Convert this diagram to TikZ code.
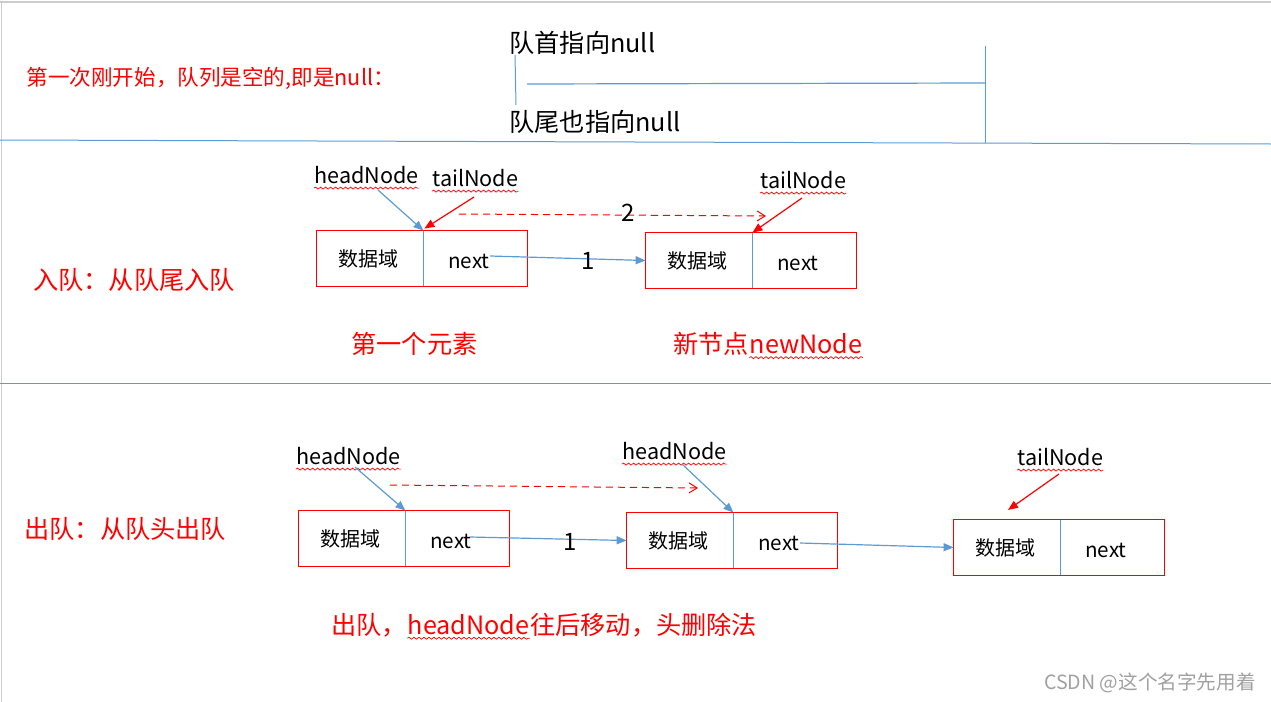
\documentclass[tikz,border=0pt]{standalone}
\usepackage{fontspec}
\setmainfont{Noto Sans CJK SC}
\usetikzlibrary{arrows.meta,decorations.pathmorphing,calc}
\definecolor{ublue}{HTML}{5B9BD5}
\definecolor{ured}{HTML}{FF0000}
\definecolor{wmgray}{HTML}{A0A0A0}
\newcommand{\datafield}{\hspace*{-1.5pt}数据域}
\newcommand{\nextfield}{\hspace*{-6pt}next}
\begin{document}
\begin{tikzpicture}[x=0.5pt,y=-0.5pt,
  txt/.style={inner sep=0pt, anchor=west},
  fbig/.style={font=\fontsize{12.6pt}{15pt}\selectfont},
  fmid/.style={font=\fontsize{10.8pt}{13pt}\selectfont},
  redtxt/.style={txt, text=ured},
  cellL/.style={inner sep=0pt, minimum width=53pt, minimum height=27.5pt, font=\fontsize{10pt}{12pt}\selectfont},
  cellR/.style={inner sep=0pt, minimum width=52pt, minimum height=27.5pt, font=\fontsize{10.3pt}{12pt}\selectfont},
  boxframe/.style={draw=ured, line width=0.6pt},
  divider/.style={draw=ublue, line width=0.5pt},
  blink/.style={draw=ublue, line width=0.6pt, -{Triangle[length=5pt,width=4pt]}},
  rlink/.style={draw=ured, line width=0.6pt, -{Triangle[length=5pt,width=4pt]}},
  rdash/.style={draw=ured, line width=0.5pt, dash pattern=on 3.5pt off 2.5pt, -{Straight Barb[length=4pt,width=5pt]}},
  squig/.style={draw=ured, line width=0.35pt, decorate, decoration={snake, amplitude=0.5pt, segment length=2.5pt}},
  numlbl/.style={inner sep=0pt, font=\fontsize{12pt}{14pt}\selectfont}
]
\useasboundingbox (0,0) rectangle (1271,702);
% page borders
\draw[black!20, line width=1pt] (0,2) -- (1271,2);
\draw[black!20, line width=0.5pt] (1,2) -- (1,702);
% section separators
\draw[ublue, line width=0.5pt] (0,140) -- (1271,144);
\draw[ublue, line width=0.5pt] (0,383) -- (1271,383);

% ---------- top section ----------
\node[redtxt, fmid] (t0) at (26,78) {第一次刚开始，队列是空的,即是null：};
\node[txt, fbig] (qh) at (509,43) {队首指向null};
\node[txt, fbig] (qt) at (509,122) {队尾也指向null};
\coordinate (v1a) at (515,55);
\coordinate (v1b) at (516,105);
\coordinate (h1a) at (527,84);
\coordinate (h1b) at (985,83);
\coordinate (v2a) at (985,46);
\coordinate (v2b) at (985,143);
\draw[ublue, line width=0.5pt] (v1a) -- (v1b);
\draw[ublue, line width=0.6pt] (h1a) -- (h1b);
\draw[ublue, line width=0.5pt] (v2a) -- (v2b);

% ---------- enqueue section ----------
\node[redtxt, fbig] (enq) at (33,280) {入队：从队尾入队};
\node[cellL] (d1) at (370,258.5) {\datafield};
\node[cellR] (n1) at (475,261) {\nextfield};
\draw[boxframe] (d1.north west) rectangle (n1.south east |- d1.south);
\draw[divider] (d1.north east) -- (d1.south east);

\node[cellL] (d2) at (699,260.5) {\datafield};
\node[cellR] (n2) at (804,263) {\nextfield};
\draw[boxframe] (d2.north west) rectangle (n2.south east |- d2.south);
\draw[divider] (d2.north east) -- (d2.south east);

\node[txt, fmid] (hn1) at (314,175) {headNode};
\node[txt, fmid] (tn1) at (432,178) {tailNode};
\node[txt, fmid] (tn2) at (760,180) {tailNode};
\draw[squig] ([yshift=-2pt]hn1.south west) -- ([yshift=-2pt]hn1.south east);
\draw[squig] ([yshift=-2pt]tn1.south west) -- ([yshift=-2pt]tn1.south east);
\draw[squig] ([yshift=-2pt]tn2.south west) -- ([yshift=-2pt]tn2.south east);

\draw[blink] (378,190) -- (d1.north east);
\draw[rlink] (474,197) -- ([xshift=0.5pt,yshift=1pt]d1.north east);
\draw[rlink] (802,198) -- (d2.north east);

\coordinate (e2a) at (459,214);
\coordinate (e2b) at (766,216);
\draw[rdash] (e2a) -- (e2b);
\node[numlbl] (lab2) at (628,213) {2};

\coordinate (n1out) at (490,256);
\draw[blink] (n1out) -- (d2.west);
\node[numlbl] (lab1) at (588,261) {1};

\node[redtxt, fbig] (first) at (351,344) {第一个元素};
\node[redtxt, fbig] (newa) at (673,344) {新节点};
\node[txt, fbig, text=ured, anchor=base west] (newb) at (newa.base east) {newNode};
\draw[squig] ([yshift=-2pt]newb.base west) -- ([yshift=-2pt]newb.base east);

% ---------- dequeue section ----------
\node[redtxt, fbig] (deq) at (24,529) {出队：从队头出队};
\node[cellL] (dA) at (352,538.5) {\datafield};
\node[cellR] (nA) at (457,541) {\nextfield};
\draw[boxframe] (dA.north west) rectangle (nA.south east |- dA.south);
\draw[divider] (dA.north east) -- (dA.south east);

\node[cellL] (dB) at (680,540.5) {\datafield};
\node[cellR] (nB) at (785,543) {\nextfield};
\draw[boxframe] (dB.north west) rectangle (nB.south east |- dB.south);
\draw[divider] (dB.north east) -- (dB.south east);

\node[cellL] (dC) at (1007,547.5) {\datafield};
\node[cellR] (nC) at (1112,550) {\nextfield};
\draw[boxframe] (dC.north west) rectangle (nC.south east |- dC.south);
\draw[divider] (dC.north east) -- (dC.south east);

\node[txt, fmid] (hnA) at (296,456) {headNode};
\node[txt, fmid] (hnB) at (622,451) {headNode};
\node[txt, fmid] (tnC) at (1017,457) {tailNode};
\draw[squig] ([yshift=-2pt]hnA.south west) -- ([yshift=-2pt]hnA.south east);
\draw[squig] ([yshift=-2pt]hnB.south west) -- ([yshift=-2pt]hnB.south east);
\draw[squig] ([yshift=-2pt]tnC.south west) -- ([yshift=-2pt]tnC.south east);

\draw[blink] (355,467) -- (dA.north east);
\draw[blink] (682,464) -- (dB.north east);
\coordinate (tCtip) at (1008,510);
\draw[rlink] (1059,474) -- (tCtip);

\coordinate (dqa) at (390,485);
\coordinate (dqb) at (698,488);
\draw[rdash] (dqa) -- (dqb);

\coordinate (nAout) at (470,537);
\draw[blink] (nAout) -- (dB.west);
\node[numlbl] (lab1b) at (570,542) {1};
\coordinate (nBout) at (800,543);
\draw[blink] (nBout) -- (dC.west);

\node[redtxt, fbig] (dqa1) at (331,625) {出队，};
\node[txt, fbig, text=ured, anchor=base west] (dqa2) at (dqa1.base east) {headNode};
\node[txt, fbig, text=ured, anchor=base west] (dqa3) at (dqa2.base east) {往后移动，头删除法};
\draw[squig] ([yshift=-2pt]dqa2.base west) -- ([yshift=-2pt]dqa2.base east);

% watermark
\node[inner sep=0pt, anchor=east, text=wmgray, font=\fontsize{9.8pt}{12pt}\selectfont] (wm) at (1256,683) {CSDN @这个名字先用着};
\end{tikzpicture}
\end{document}
